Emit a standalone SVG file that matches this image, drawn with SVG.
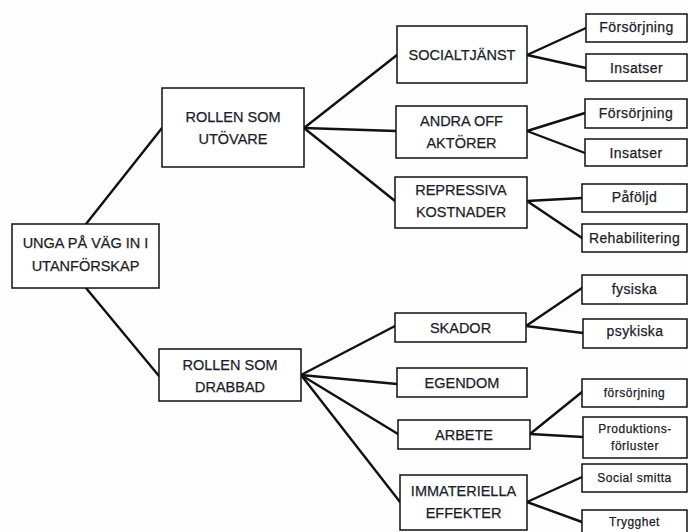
<svg xmlns="http://www.w3.org/2000/svg" width="688" height="532" viewBox="0 0 688 532">
<style>
.box{fill:#fff;stroke:#111;stroke-width:1.5}
.t,.l,.s{font-family:"Liberation Sans",Arial,sans-serif;fill:#1c1c2a;stroke:#1c1c2a;stroke-width:0.25;text-anchor:middle}
.t{font-size:14.5px}
.l{font-size:14px;letter-spacing:0.4px}
.s{font-size:12px;letter-spacing:0.5px}
.c line{stroke:#111;stroke-width:2.4;stroke-linecap:round}
</style>
<rect width="688" height="532" fill="#fdfdfd"/>
<g class="c" id="connectors">
<line x1="86" y1="224" x2="162" y2="128"/>
<line x1="86" y1="288" x2="159" y2="376"/>
<line x1="304" y1="128" x2="397" y2="55"/>
<line x1="304" y1="128" x2="396" y2="131"/>
<line x1="304" y1="128" x2="395" y2="201"/>
<line x1="527" y1="55" x2="586" y2="28"/>
<line x1="527" y1="55" x2="586" y2="68"/>
<line x1="527" y1="131" x2="585" y2="113"/>
<line x1="527" y1="131" x2="585" y2="153"/>
<line x1="527" y1="201" x2="582" y2="198"/>
<line x1="527" y1="201" x2="582" y2="238"/>
<line x1="301" y1="375" x2="395" y2="326"/>
<line x1="301" y1="375" x2="397" y2="384"/>
<line x1="301" y1="375" x2="398" y2="434"/>
<line x1="301" y1="375" x2="400" y2="502"/>
<line x1="526" y1="326" x2="582" y2="288"/>
<line x1="526" y1="326" x2="583" y2="333"/>
<line x1="530" y1="434" x2="582" y2="392"/>
<line x1="530" y1="434" x2="583" y2="437"/>
<line x1="527" y1="502" x2="582" y2="477"/>
<line x1="527" y1="502" x2="582" y2="522"/>
</g>
<g id="root"><rect class="box" x="12" y="224" width="147" height="64"/><text class="t" x="85.5" y="248">UNGA PÅ VÄG IN I</text><text class="t" x="85.5" y="271">UTANFÖRSKAP</text></g>
<g id="utovare"><rect class="box" x="162" y="88" width="142" height="79"/><text class="t" x="233" y="122">ROLLEN SOM</text><text class="t" x="233" y="144">UTÖVARE</text></g>
<g id="drabbad"><rect class="box" x="159" y="349" width="142" height="52"/><text class="t" x="230" y="370">ROLLEN SOM</text><text class="t" x="230" y="392">DRABBAD</text></g>
<g id="socialtjanst"><rect class="box" x="397" y="26" width="130" height="57"/><text class="t" x="462" y="60">SOCIALTJÄNST</text></g>
<g id="andra"><rect class="box" x="396" y="106" width="131" height="52"/><text class="t" x="461.5" y="126">ANDRA OFF</text><text class="t" x="461.5" y="148">AKTÖRER</text></g>
<g id="repressiva"><rect class="box" x="395" y="177" width="132" height="51"/><text class="t" x="461" y="195">REPRESSIVA</text><text class="t" x="461" y="217">KOSTNADER</text></g>
<g id="forsorjning1"><rect class="box" x="586" y="14" width="101" height="28"/><text class="l" x="636.5" y="32">Försörjning</text></g>
<g id="insatser1"><rect class="box" x="586" y="54" width="101" height="27"/><text class="l" x="636.5" y="73">Insatser</text></g>
<g id="forsorjning2"><rect class="box" x="585" y="99" width="102" height="29"/><text class="l" x="636" y="118">Försörjning</text></g>
<g id="insatser2"><rect class="box" x="585" y="139" width="102" height="27"/><text class="l" x="636" y="158">Insatser</text></g>
<g id="pafoljd"><rect class="box" x="582" y="184" width="105" height="28"/><text class="l" x="634.5" y="202">Påföljd</text></g>
<g id="rehabilitering"><rect class="box" x="582" y="224" width="105" height="28"/><text class="l" x="634.5" y="243">Rehabilitering</text></g>
<g id="skador"><rect class="box" x="395" y="313" width="131" height="29"/><text class="t" x="460.5" y="333">SKADOR</text></g>
<g id="egendom"><rect class="box" x="397" y="368" width="130" height="29"/><text class="t" x="462" y="388">EGENDOM</text></g>
<g id="arbete"><rect class="box" x="398" y="420" width="132" height="29"/><text class="t" x="464" y="440">ARBETE</text></g>
<g id="immateriella"><rect class="box" x="400" y="475" width="127" height="55"/><text class="t" x="463.5" y="496">IMMATERIELLA</text><text class="t" x="463.5" y="518">EFFEKTER</text></g>
<g id="fysiska"><rect class="box" x="582" y="275" width="105" height="29"/><text class="l" x="634.5" y="294">fysiska</text></g>
<g id="psykiska"><rect class="box" x="583" y="319" width="104" height="29"/><text class="l" x="635" y="336">psykiska</text></g>
<g id="forsorjning3"><rect class="box" x="582" y="379" width="105" height="28"/><text class="s" x="634.5" y="397">försörjning</text></g>
<g id="produktion"><rect class="box" x="583" y="417" width="104" height="41"/><text class="s" x="635" y="433">Produktions-</text><text class="s" x="635" y="450">förluster</text></g>
<g id="socialsmitta"><rect class="box" x="582" y="464" width="105" height="28"/><text class="s" x="634.5" y="482">Social smitta</text></g>
<g id="trygghet"><rect class="box" x="582" y="510" width="105" height="30"/><text class="s" x="634.5" y="526">Trygghet</text></g>
</svg>
